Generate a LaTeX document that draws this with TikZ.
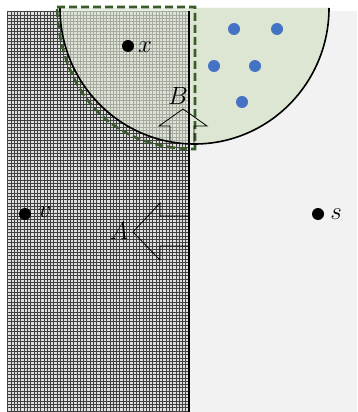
\documentclass[tikz,border=0pt]{standalone}
\definecolor{paleGreen}{HTML}{DCE6D2}
\definecolor{darkGreen}{HTML}{3A5C2A}
\definecolor{dotBlue}{HTML}{4472C4}
\definecolor{paleGray}{HTML}{F2F2F2}
\begin{document}
\begin{tikzpicture}[x=1pt, y=-1pt,
        every node/.style={font=\fontsize{26}{26}\selectfont},
        point/.style={circle, fill=black, inner sep=0pt, minimum size=12pt},
        bluepoint/.style={circle, fill=dotBlue, inner sep=0pt, minimum size=12pt},
        letter/.style={inner sep=0pt},
        hatch/.style={black!75, line width=0.5pt},
        blockarrow/.style={draw=black, line width=0.8pt, line join=miter},
        border/.style={draw=darkGreen, line width=2.6pt, dash pattern=on 8pt off 4pt}
      ]
      \useasboundingbox (0,0) rectangle (357,412);
      \fill[paleGray] (189,11) rectangle (357,412);
      \fill[gray!25] (7,11) rectangle (189,412);
      \foreach \gx in {7.5,10.8,...,189}
        \draw[hatch] (\gx,11) -- (\gx,412);
      \foreach \gy in {11.5,14.8,...,412}
        \draw[hatch] (7,\gy) -- (189,\gy);
      \fill[paleGreen, opacity=0.65] (60,8)
        arc[start angle=180, end angle=0, x radius=134.5, y radius=136] -- cycle;
      \fill[paleGreen] (189,8) -- (329,8)
        arc[start angle=0, end angle=90, x radius=134.5, y radius=136] -- cycle;
      \draw[line width=1.6pt] (60,8)
        arc[start angle=180, end angle=0, x radius=134.5, y radius=136];
      \draw[line width=1.2pt] (189,11) -- (189,412);
      \draw[border] (57,7) -- (195,7) -- (195,149)
        .. controls (112,149) and (60,92) .. (57,7) -- cycle;
      \draw[blockarrow] (170,141) -- (170,126) -- (159,126) -- (183,109)
        -- (207,126) -- (194,126) -- (194,145);
      \draw[blockarrow] (189,216) -- (160,216) -- (160,203) -- (133,232)
        -- (160,260) -- (160,246) -- (189,246);
      \node[point] (xdot) at (128,46) {};
      \node[letter] (xlab) at (145,47) {$x$};
      \node[point] (vdot) at (25,214) {};
      \node[letter] (vlab) at (45,212) {$v$};
      \node[point] (sdot) at (318,214) {};
      \node[letter] (slab) at (336,214) {$s$};
      \node[letter] (alab) at (119,231) {$A$};
      \node[letter] (blab) at (178,96) {$B$};
      \node[bluepoint] (b1) at (234,29) {};
      \node[bluepoint] (b2) at (277,29) {};
      \node[bluepoint] (b3) at (214,66) {};
      \node[bluepoint] (b4) at (255,66) {};
      \node[bluepoint] (b5) at (242,102) {};
    \end{tikzpicture}
\end{document}
